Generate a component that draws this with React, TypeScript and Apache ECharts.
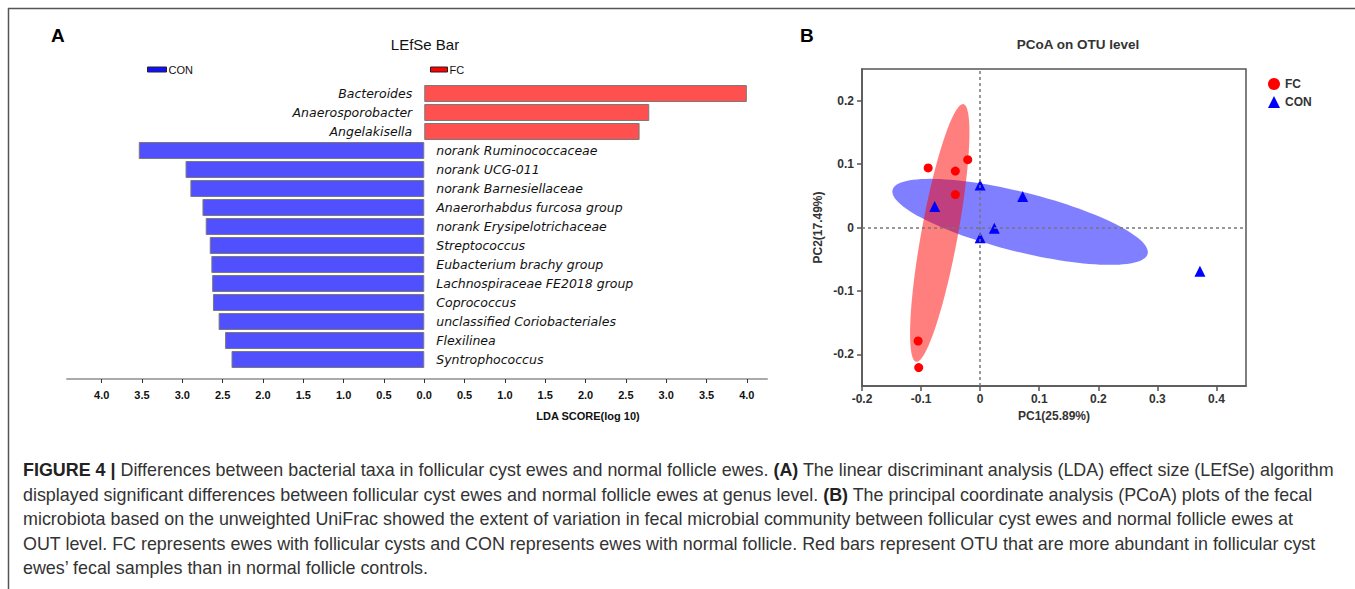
import React, { useEffect, useRef } from "react";
import * as echarts from "echarts";

// ---------- data ----------
const taxa = [
  "Bacteroides",
  "Anaerosporobacter",
  "Angelakisella",
  "norank Ruminococcaceae",
  "norank UCG-011",
  "norank Barnesiellaceae",
  "Anaerorhabdus furcosa group",
  "norank Erysipelotrichaceae",
  "Streptococcus",
  "Eubacterium brachy group",
  "Lachnospiraceae FE2018 group",
  "Coprococcus",
  "unclassified Coriobacteriales",
  "Flexilinea",
  "Syntrophococcus",
];
const fcLda = [4.0, 2.79, 2.67, null, null, null, null, null, null, null, null, null, null, null, null];
const conLda = [null, null, null, -3.54, -2.96, -2.9, -2.75, -2.71, -2.66, -2.64, -2.63, -2.62, -2.55, -2.47, -2.39];
const ldaTicks = [-4, -3.5, -3, -2.5, -2, -1.5, -1, -0.5, 0, 0.5, 1, 1.5, 2, 2.5, 3, 3.5, 4];

const fcPoints = [
  [-0.088, 0.094],
  [-0.042, 0.089],
  [-0.021, 0.107],
  [-0.042, 0.052],
  [-0.105, -0.179],
  [-0.104, -0.221],
];
const conPoints = [
  [-0.077, 0.033],
  [0.0, 0.067],
  [0.072, 0.049],
  [0.024, -0.001],
  [0.0, -0.016],
  [0.372, -0.069],
];
// ellipse: [centerX, centerY, u_x, u_y, v_x, v_y] (conjugate semi-axes in data units)
const fcEllipse = [-0.0684, -0.0086, -0.04, -0.2032, -0.0304, 0.0052];
const conEllipse = [0.0676, 0.0089, 0.2159, -0.0504, -0.0123, -0.0454];
const pc1Ticks = [-0.2, -0.1, 0, 0.1, 0.2, 0.3, 0.4];
const pc2Ticks = [-0.2, -0.1, 0, 0.1, 0.2];

const captionLines = [
  "{b|FIGURE 4 |} Differences between bacterial taxa in follicular cyst ewes and normal follicle ewes. {b|(A)} The linear discriminant analysis (LDA) effect size (LEfSe) algorithm",
  "displayed significant differences between follicular cyst ewes and normal follicle ewes at genus level. {b|(B)} The principal coordinate analysis (PCoA) plots of the fecal",
  "microbiota based on the unweighted UniFrac showed the extent of variation in fecal microbial community between follicular cyst ewes and normal follicle ewes at",
  "OUT level. FC represents ewes with follicular cysts and CON represents ewes with normal follicle. Red bars represent OTU that are more abundant in follicular cyst",
  "ewes\u2019 fecal samples than in normal follicle controls.",
];

const SANS = "'Liberation Sans', Arial, sans-serif";
const CAP = "'Liberation Sans Narrow', 'Liberation Sans', Arial, sans-serif";

function ellipseRender(color: string) {
  return (params: any, api: any) => {
    const cx = api.value(0), cy = api.value(1);
    const ux = api.value(2), uy = api.value(3);
    const vx = api.value(4), vy = api.value(5);
    const pts: number[][] = [];
    const n = 120;
    for (let i = 0; i < n; i++) {
      const t = (i / n) * Math.PI * 2;
      pts.push(api.coord([cx + ux * Math.cos(t) + vx * Math.sin(t), cy + uy * Math.cos(t) + vy * Math.sin(t)]));
    }
    return { type: "polygon", shape: { points: pts }, style: { fill: color } };
  };
}

export default function App() {
  const ref = useRef<HTMLDivElement>(null);
  useEffect(() => {
    document.body.style.margin = "0";
    document.body.style.overflow = "hidden";
    const chart = echarts.init(ref.current!, null, { renderer: "svg" });
    const option: any = {
      animation: false,
      backgroundColor: "#ffffff",
      grid: [
        { left: 67, top: 84, width: 700, height: 285 },
        { left: 862, top: 69, width: 384, height: 317, show: true, borderColor: "#555", borderWidth: 1.5, backgroundColor: "transparent" },
      ],
      legend: [
        {
          data: ["LEfSe CON"], left: 142, top: 59, icon: "rect", itemWidth: 19, itemHeight: 5,
          formatter: () => "CON", selectedMode: false,
          itemStyle: { color: "#1010ff", borderColor: "#222", borderWidth: 1 },
          textStyle: { fontFamily: SANS, fontSize: 11, color: "#111", padding: [0, 0, 0, -3] },
        },
        {
          data: ["LEfSe FC"], left: 425, top: 59, icon: "rect", itemWidth: 17, itemHeight: 5,
          formatter: () => "FC", selectedMode: false,
          itemStyle: { color: "#ff0000", borderColor: "#222", borderWidth: 1 },
          textStyle: { fontFamily: SANS, fontSize: 11, color: "#111", padding: [0, 0, 0, -3] },
        },
        {
          data: [{ name: "FC", icon: "circle" }, { name: "CON", icon: "triangle" }],
          orient: "vertical", left: 1263, top: 73, itemWidth: 12, itemHeight: 12, itemGap: 6, selectedMode: false,
          textStyle: { fontFamily: SANS, fontSize: 12, fontWeight: "bold", color: "#333" },
        },
      ],
      xAxis: [
        {
          gridIndex: 0, type: "value", min: -4.43, max: 4.25, offset: 10,
          axisLine: { show: true, lineStyle: { color: "#aaa", width: 2 } },
          axisTick: { show: true, customValues: ldaTicks, length: 4, lineStyle: { color: "#333", width: 1 } },
          axisLabel: {
            customValues: ldaTicks, margin: 10, fontFamily: SANS, fontSize: 11, fontWeight: "bold", color: "#111",
            formatter: (v: number) => Math.abs(v).toFixed(1),
          },
          splitLine: { show: false },
        },
        {
          gridIndex: 1, type: "value", min: -0.2, max: 0.45,
          axisLine: { show: true, onZero: false, lineStyle: { color: "#555", width: 1.5 } },
          axisTick: { show: true, customValues: pc1Ticks, length: 5, lineStyle: { color: "#555", width: 1.5 } },
          axisLabel: {
            customValues: pc1Ticks, margin: 7, fontFamily: SANS, fontSize: 12, fontWeight: "bold", color: "#333",
            formatter: (v: number) => (Math.abs(v) < 1e-9 ? "0" : v.toFixed(1)),
          },
          splitLine: { show: false },
          name: "PC1(25.89%)", nameLocation: "middle", nameGap: 23,
          nameTextStyle: { fontFamily: SANS, fontSize: 12, fontWeight: "bold", color: "#333" },
        },
      ],
      yAxis: [
        {
          gridIndex: 0, type: "category", data: taxa, inverse: true, show: false,
        },
        {
          gridIndex: 1, type: "value", min: -0.25, max: 0.25,
          axisLine: { show: true, onZero: false, lineStyle: { color: "#555", width: 1.5 } },
          axisTick: { show: true, customValues: pc2Ticks, length: 5, lineStyle: { color: "#555", width: 1.5 } },
          axisLabel: {
            customValues: pc2Ticks, margin: 8, fontFamily: SANS, fontSize: 12, fontWeight: "bold", color: "#333",
            formatter: (v: number) => (Math.abs(v) < 1e-9 ? "0" : v.toFixed(1)),
          },
          splitLine: { show: false },
          name: "PC2(17.49%)", nameLocation: "middle", nameGap: 38,
          nameTextStyle: { fontFamily: SANS, fontSize: 12, fontWeight: "bold", color: "#333" },
        },
      ],
      series: [
        {
          name: "LEfSe FC", type: "bar", xAxisIndex: 0, yAxisIndex: 0, stack: "lda", data: fcLda, barWidth: 17,
          itemStyle: { color: "#ff5050", borderColor: "#7a7a7a", borderWidth: 1 },
          label: {
            show: true, position: "left", distance: 12, formatter: "{b}",
            fontFamily: "'DejaVu Sans', sans-serif", fontStyle: "italic", fontSize: 12.5, color: "#111",
          },
        },
        {
          name: "LEfSe CON", type: "bar", xAxisIndex: 0, yAxisIndex: 0, stack: "lda", data: conLda, barWidth: 17,
          itemStyle: { color: "#5050ff", borderColor: "#7a7a7a", borderWidth: 1 },
          label: {
            show: true, position: "right", distance: 12, formatter: "{b}",
            fontFamily: "'DejaVu Sans', sans-serif", fontStyle: "italic", fontSize: 12.5, color: "#111",
          },
        },
        {
          name: "CON ellipse", type: "custom", xAxisIndex: 1, yAxisIndex: 1, data: [conEllipse],
          encode: { x: 0, y: 1 }, renderItem: ellipseRender("rgba(0,0,255,0.5)"), silent: true, z: 1,
        },
        {
          name: "FC ellipse", type: "custom", xAxisIndex: 1, yAxisIndex: 1, data: [fcEllipse],
          encode: { x: 0, y: 1 }, renderItem: ellipseRender("rgba(255,0,0,0.5)"), silent: true, z: 1,
        },
        {
          name: "FC", type: "scatter", xAxisIndex: 1, yAxisIndex: 1, data: fcPoints, symbol: "circle", symbolSize: 9,
          itemStyle: { color: "#ff0000", opacity: 1 }, z: 3,
          markLine: {
            silent: true, symbol: ["none", "none"], label: { show: false },
            lineStyle: { type: [3, 3], color: "#777", width: 1.5 },
            data: [{ xAxis: 0 }, { yAxis: 0 }],
          },
        },
        {
          name: "CON", type: "scatter", xAxisIndex: 1, yAxisIndex: 1, data: conPoints, symbol: "triangle", symbolSize: 11,
          itemStyle: { color: "#0000ff", opacity: 1 }, z: 3,
        },
      ],
      graphic: [
        { type: "line", shape: { x1: 8, y1: 8.5, x2: 1355, y2: 8.5 }, style: { stroke: "#555", lineWidth: 1.5 } },
        { type: "line", shape: { x1: 8.5, y1: 8, x2: 8.5, y2: 589 }, style: { stroke: "#555", lineWidth: 1.5 } },
        { type: "text", x: 51, y: 35, style: { text: "A", fontFamily: SANS, fontSize: 19, fontWeight: "bold", fill: "#000", verticalAlign: "middle" } },
        { type: "text", x: 800, y: 35, style: { text: "B", fontFamily: SANS, fontSize: 19, fontWeight: "bold", fill: "#000", verticalAlign: "middle" } },
        { type: "text", x: 425, y: 44, style: { text: "LEfSe Bar", fontFamily: SANS, fontSize: 15, fill: "#111", align: "center", verticalAlign: "middle" } },
        { type: "text", x: 1078, y: 44, style: { text: "PCoA on OTU level", fontFamily: SANS, fontSize: 13.5, fontWeight: "bold", fill: "#333", align: "center", verticalAlign: "middle" } },
        { type: "text", x: 588, y: 416, style: { text: "LDA SCORE(log 10)", fontFamily: SANS, fontSize: 11, fontWeight: "bold", fill: "#111", align: "center", verticalAlign: "middle" } },
        ...captionLines.map((t, i) => ({
          type: "text", x: 23, y: 470 + i * 24.5,
          style: {
            text: t, fontFamily: CAP, fontSize: 17.9, fill: "#333", verticalAlign: "middle",
            rich: { b: { fontFamily: CAP, fontSize: 17.9, fontWeight: "bold", fill: "#222" } },
          },
        })),
      ],
    };
    chart.setOption(option);
    return () => chart.dispose();
  }, []);
  return <div ref={ref} style={{ width: 1355, height: 589 }} />;
}
